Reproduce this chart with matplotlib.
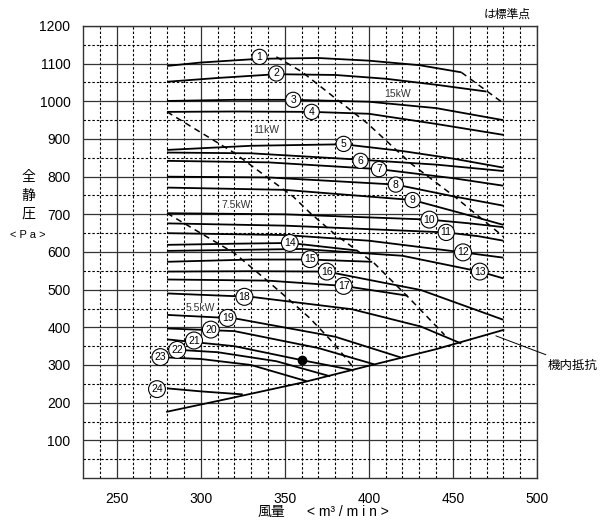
import matplotlib
matplotlib.use("Agg")
import matplotlib.pyplot as plt
import numpy as np

# fan curves: flow <m3/min> and static pressure <Pa>
q1 = [280, 300, 335, 370, 400, 430, 455]
p1 = [1094, 1103, 1113, 1115, 1108, 1096, 1077]
q2 = [280, 310, 345, 380, 410, 440, 470]
p2 = [1052, 1062, 1072, 1070, 1060, 1044, 1026]
q3 = [280, 320, 355, 400, 440, 480]
p3 = [1001, 1004, 1004, 999, 982, 950]
q4 = [280, 320, 366, 400, 440, 480]
p4 = [972, 973, 972, 967, 940, 911]
q5 = [280, 330, 385, 420, 450, 480]
p5 = [871, 882, 886, 868, 848, 824]
q6 = [280, 330, 395, 440, 480]
p6 = [864, 862, 845, 832, 815]
q7 = [280, 340, 406, 450, 480]
p7 = [842, 838, 820, 796, 776]
q8 = [280, 340, 416, 450, 480]
p8 = [800, 798, 779, 748, 723]
q9 = [280, 350, 426, 455, 480]
p9 = [771, 765, 738, 703, 672]
q10 = [280, 350, 436, 460, 480]
p10 = [703, 700, 686, 676, 666]
q11 = [280, 350, 446, 465, 480]
p11 = [676, 670, 652, 642, 630]
q12 = [280, 350, 400, 456, 480]
p12 = [650, 645, 630, 599, 585]
q13 = [280, 360, 420, 466, 480]
p13 = [603, 608, 590, 548, 530]
q14 = [280, 320, 353, 393]
p14 = [619, 622, 624, 604]
q15 = [280, 330, 365, 402]
p15 = [574, 580, 580, 574]
q16 = [280, 330, 375, 431, 480]
p16 = [548, 549, 548, 499, 420]
q17 = [280, 340, 385, 423]
p17 = [527, 524, 510, 484]
q18 = [280, 330, 390, 431, 455]
p18 = [490, 481, 448, 402, 357]
q19 = [280, 320, 380, 419]
p19 = [433, 424, 375, 320]
q20 = [280, 320, 370, 403]
p20 = [397, 390, 345, 302]
q21 = [280, 320, 360, 391]
p21 = [368, 350, 313, 286]
q22 = [280, 310, 345, 377]
p22 = [342, 334, 310, 270]
q23 = [280, 300, 330, 363]
p23 = [320, 316, 300, 257]
q24 = [280, 300, 325]
p24 = [238, 230, 222]

curves = [(q1, p1), (q2, p2), (q3, p3), (q4, p4), (q5, p5), (q6, p6),
          (q7, p7), (q8, p8), (q9, p9), (q10, p10), (q11, p11), (q12, p12),
          (q13, p13), (q14, p14), (q15, p15), (q16, p16), (q17, p17),
          (q18, p18), (q19, p19), (q20, p20), (q21, p21), (q22, p22),
          (q23, p23), (q24, p24)]

# curve number labels
label_q = [335, 345, 355, 366, 385, 395, 406, 416, 426, 436, 446, 456,
           466, 353, 365, 375, 385, 326, 316, 306, 296, 286, 276, 274]
label_p = [1118, 1074, 1004, 972, 887, 842, 820, 779, 738, 686, 652, 599,
           548, 624, 581, 548, 510, 481, 425, 394, 365, 340, 321, 236]

# motor limit lines (dashed)
lim15_q = [455, 480]
lim15_p = [1077, 995]
lim11_q = [345, 360, 379, 399, 425, 451, 480]
lim11_p = [1118, 1079, 1012, 942, 835, 747, 641]
lim75_q = [280, 320, 355, 365, 379, 403, 425, 445]
lim75_p = [972, 863, 747, 704, 650, 571, 473, 380]
lim55_q = [280, 300, 320, 339, 355, 365, 379, 392]
lim55_p = [703, 650, 597, 526, 464, 424, 358, 287]

# machine internal resistance
res_q = [280, 320, 360, 400, 440, 480]
res_p = [176, 214, 253, 298, 342, 393]

# standard point
std_q = [360]
std_p = [313]

kw_text = ["15kW", "11kW", "7.5kW", "5.5kW"]
kw_q = [417, 339, 321, 300]
kw_p = [1019, 924, 725, 451]

jp = ["Noto Sans CJK JP", "DejaVu Sans"]
plt.rcParams["font.family"] = ["Liberation Sans", "Noto Sans CJK JP"]

fig = plt.figure(figsize=(6.02, 5.28), dpi=100)
ax = fig.add_axes([83 / 602, 1 - 478 / 528, 454 / 602, 452 / 528])

ax.set_xlim(230, 500)
ax.set_ylim(0, 1200)

ax.set_xticks(np.arange(250, 501, 50))
ax.set_xticks([v for v in range(240, 500, 10) if v % 50 != 0], minor=True)
ax.set_yticks(np.arange(100, 1201, 100))
ax.set_yticks(np.arange(50, 1200, 100), minor=True)
ax.tick_params(which="both", length=0)
ax.tick_params(axis="x", pad=10, labelsize=10)
ax.tick_params(axis="y", pad=9, labelsize=10)

ax.grid(which="major", color="#333333", lw=0.9, ls="-")
ax.grid(which="minor", color="black", lw=0.8, ls=(0, (2.2, 1.8)))
ax.set_axisbelow(True)
for s in ax.spines.values():
    s.set_color("#333333")
    s.set_linewidth(1.0)

for q, p in curves:
    ax.plot(q, p, color="black", lw=1.3, solid_capstyle="butt", zorder=3)

for lq, lp in [(lim15_q, lim15_p), (lim11_q, lim11_p), (lim75_q, lim75_p), (lim55_q, lim55_p)]:
    ax.plot(lq, lp, color="black", lw=1.1, ls=(0, (4, 3)), zorder=3)

ax.plot(res_q, res_p, color="black", lw=1.3, zorder=3)
ax.plot(std_q, std_p, "o", color="black", ms=6, zorder=5)

for i, (lq, lp) in enumerate(zip(label_q, label_p)):
    ax.text(lq, lp, str(i + 1), ha="center", va="center", fontsize=7.5, zorder=6,
            bbox=dict(boxstyle="circle,pad=0.25", fc="white", ec="black", lw=0.8))

for t, kq, kp in zip(kw_text, kw_q, kw_p):
    ax.text(kq, kp, t, ha="center", va="center", fontsize=7.5, color="#333333", zorder=4,
            bbox=dict(boxstyle="square,pad=0.05", fc="white", ec="none"))

ax.annotate("機内抵抗", xy=(474, 380), xycoords="data",
            xytext=(548 / 602, 1 - 365 / 528), textcoords="figure fraction",
            ha="left", va="center", fontsize=9, family=jp,
            arrowprops=dict(arrowstyle="-", color="black", lw=0.7))

fig.text(507 / 602, 1 - 14 / 528, "は標準点", ha="center", va="center", fontsize=8.5, family=jp)
for t, y in zip(["全", "静", "圧"], [177, 196, 214]):
    fig.text(28 / 602, 1 - y / 528, t, ha="center", va="center", fontsize=10, family=jp)
fig.text(28 / 602, 1 - 235 / 528, "< P a >", ha="center", va="center", fontsize=8)
fig.text(271 / 602, 1 - 512 / 528, "風量", ha="center", va="center", fontsize=10, family=jp)
fig.text(348 / 602, 1 - 512 / 528, "< m³ / m i n >", ha="center", va="center", fontsize=10)

fig.savefig("out.png", dpi=100)
